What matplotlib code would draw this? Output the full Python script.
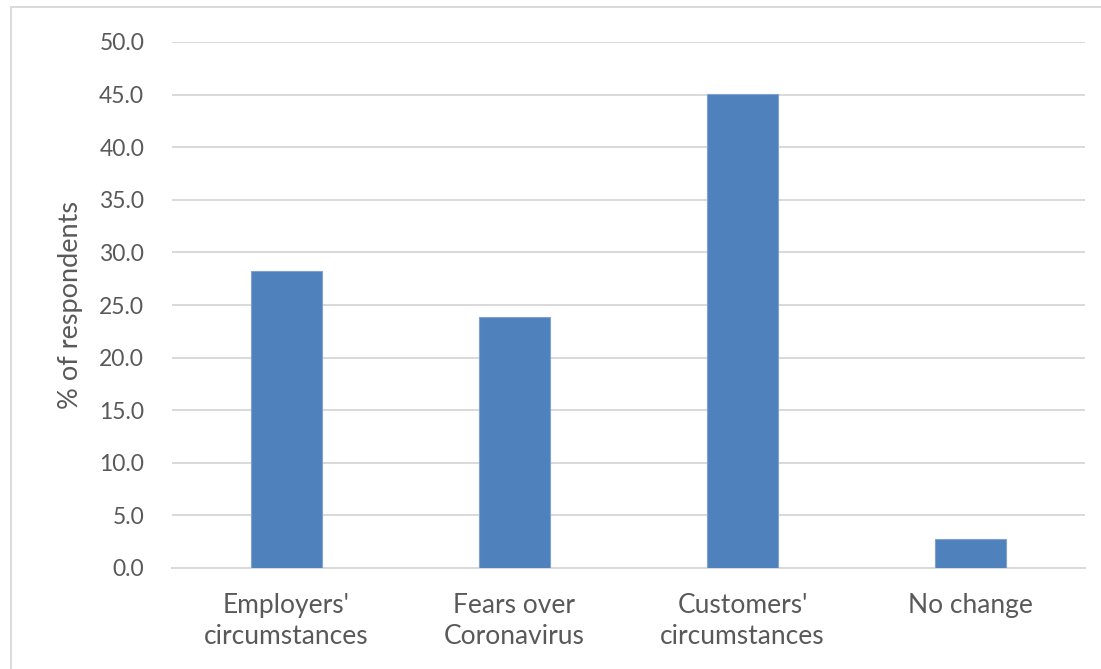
import matplotlib
matplotlib.use("Agg")
import matplotlib.pyplot as plt
from matplotlib.patches import Rectangle

categories = ["Employers'\ncircumstances", "Fears over\nCoronavirus", "Customers'\ncircumstances", "No change"]
values = [28.2, 23.9, 45.1, 2.8]
yticks = [0, 5, 10, 15, 20, 25, 30, 35, 40, 45, 50]

plt.rcParams['font.family'] = ['Lato', 'DejaVu Sans']
W, H = 1101, 669
fig = plt.figure(figsize=(W/100, H/100), dpi=100)
ax = fig.add_axes([172/W, 1-568/H, (1085-172)/W, (568-42)/H])

x = list(range(len(categories)))
ax.bar(x, values, width=0.31, color='#4f81bd', edgecolor='#7fa3d1', linewidth=0.8, zorder=3)
ax.set_xlim(-0.5, len(categories)-0.5)
ax.set_ylim(0, 50)
ax.set_yticks(yticks)
ax.set_yticklabels([f"{v:.1f}" for v in yticks])
ax.set_xticks(x)
ax.set_xticklabels(categories)
ax.grid(axis='y', color='#d9d9d9', linewidth=1.4, zorder=0)
for s in ['top', 'right', 'left']:
    ax.spines[s].set_visible(False)
ax.spines['bottom'].set_color('#d9d9d9')
ax.spines['bottom'].set_linewidth(1.4)
ax.tick_params(axis='y', length=0, colors='#595959', labelsize=16.5, pad=20)
ax.tick_params(axis='x', length=0, colors='#595959', labelsize=19, pad=18)
for lbl in ax.get_xticklabels():
    lbl.set_linespacing(1.32)
ax.set_ylabel('% of respondents', fontsize=19.5, color='#595959', labelpad=12)

fig.patches.append(Rectangle((11/W, -0.1), 1.2, 1 - 7/H + 0.1, transform=fig.transFigure,
                             fill=False, edgecolor='#d9d9d9', linewidth=1.4))
fig.savefig('out.png', dpi=100, facecolor='white')
